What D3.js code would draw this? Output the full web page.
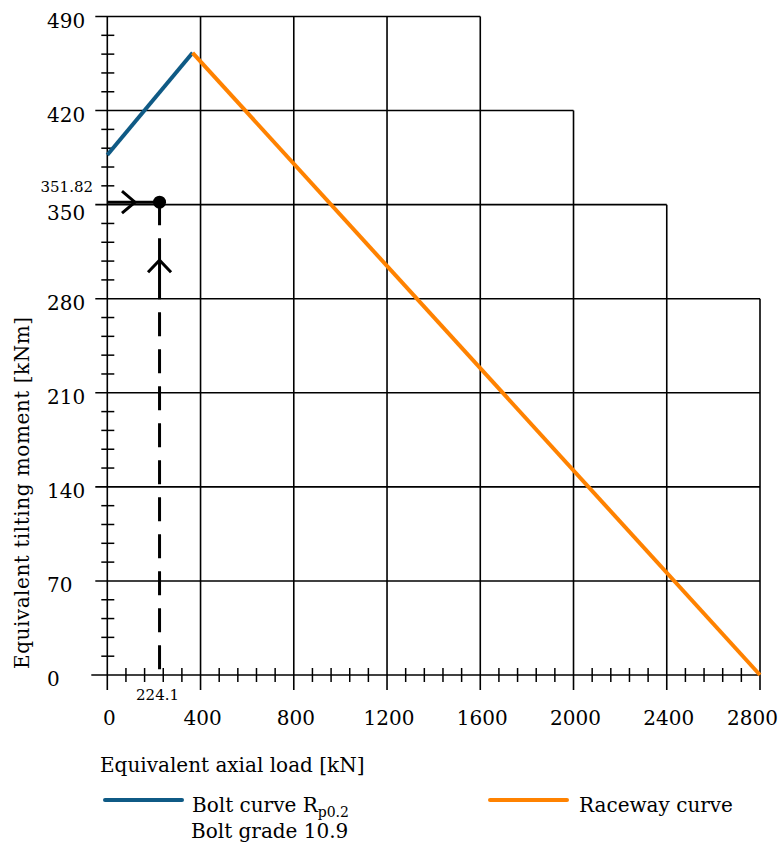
<!DOCTYPE html>
<html>
<head>
	<meta charset="utf-8">
	<title>Equivalent tilting moment vs axial load</title>
	<style>
body {
  background-color: #ffffff;
  margin: 0;
}
svg {
  font-family: "DejaVu Serif", serif;
}
	</style>
</head>
<body>
	<div id="my_dataviz"></div>

	<script src="https://d3js.org/d3.v7.min.js"></script>
	<script>
// data
var xTicks = [0, 400, 800, 1200, 1600, 2000, 2400, 2800];
var yTicks = [0, 70, 140, 210, 280, 350, 420, 490];
// how far each horizontal grid line runs (x value), and how high each vertical line goes (y value)
var hLineEnd = [2800, 2800, 2800, 2800, 2800, 2400, 2000, 1600];
var vLineTop = [490, 490, 490, 490, 490, 420, 350, 280];

var boltCurve = [[0, 387], [366, 463]];
var racewayCurve = [[366, 463], [2800, 0]];
var loadPoint = { x: 224.1, y: 351.82 };

var blue = "#0f5a85", orange = "#ff8200";

var W = 781, H = 848;
var svg = d3.select("#my_dataviz")
  .append("svg")
  .attr("width", W)
  .attr("height", H);

var x = d3.scaleLinear().domain([0, 2800]).range([107.3, 760]);
var y = d3.scaleLinear().domain([0, 490]).range([675, 16.5]);

var grid = svg.append("g").attr("stroke", "#000").attr("stroke-width", 1.6);

// horizontal grid lines (stepped right edge)
grid.selectAll(".hline").data(yTicks).enter().append("line")
  .attr("x1", function(d) { return d === 0 ? x(0) - 16 : x(0) - 12; })
  .attr("x2", function(d, i) { return x(hLineEnd[i]); })
  .attr("y1", function(d) { return y(d); })
  .attr("y2", function(d) { return y(d); });

// vertical grid lines
grid.selectAll(".vline").data(xTicks).enter().append("line")
  .attr("x1", function(d) { return x(d); })
  .attr("x2", function(d) { return x(d); })
  .attr("y1", function(d, i) { return y(vLineTop[i]); })
  .attr("y2", y(0) + 15);

// minor ticks
var xMinor = d3.range(0, 2800, 80).filter(function(d) { return d % 400 !== 0; });
var yMinor = d3.range(0, 490, 14).filter(function(d) { return d % 70 !== 0; });

grid.selectAll(".xminor").data(xMinor).enter().append("line")
  .attr("x1", function(d) { return x(d); })
  .attr("x2", function(d) { return x(d); })
  .attr("y1", y(0) - 7)
  .attr("y2", y(0) + 7)
  .attr("stroke-width", 1.5);

grid.selectAll(".yminor").data(yMinor).enter().append("line")
  .attr("x1", x(0) - 6)
  .attr("x2", x(0) + 7)
  .attr("y1", function(d) { return y(d); })
  .attr("y2", function(d) { return y(d); })
  .attr("stroke-width", 1.5);

// tick labels
svg.append("g").selectAll("text").data(yTicks).enter().append("text")
  .attr("x", 47)
  .attr("y", function(d) { return y(d) + (d === 350 ? 8 : 4); })
  .attr("dominant-baseline", "central")
  .style("font-size", "20px")
  .text(function(d) { return d; });

// last label is pulled in so it stays inside the picture
svg.append("g").selectAll("text").data(xTicks).enter().append("text")
  .attr("x", function(d, i) { return i === xTicks.length - 1 ? W - 3 : x(d) + 2; })
  .attr("y", y(0) + 50)
  .attr("text-anchor", function(d, i) { return i === xTicks.length - 1 ? "end" : "middle"; })
  .style("font-size", "20px")
  .text(function(d) { return d; });

// curves
var line = d3.line()
  .x(function(d) { return x(d[0]); })
  .y(function(d) { return y(d[1]); });

svg.append("path").datum(boltCurve)
  .attr("d", line)
  .attr("fill", "none")
  .attr("stroke", blue)
  .attr("stroke-width", 4);

svg.append("path").datum(racewayCurve)
  .attr("d", line)
  .attr("fill", "none")
  .attr("stroke", orange)
  .attr("stroke-width", 4);

// operating point annotation
var px = x(loadPoint.x), py = y(loadPoint.y);
var ann = svg.append("g").attr("stroke", "#000").attr("stroke-width", 3).attr("fill", "none");

ann.append("line")
  .attr("x1", x(0)).attr("x2", px)
  .attr("y1", py).attr("y2", py);

var dash = [23, 13, 61, 13];
for (var k = 0; k < 12; k++) dash.push(24, 13);
ann.append("line")
  .attr("x1", px).attr("x2", px)
  .attr("y1", py).attr("y2", y(0))
  .attr("stroke-dasharray", dash.join(" "));

// arrow heads
var hx = x(0) + (px - x(0)) * 0.53;
ann.append("path")
  .attr("d", "M" + (hx - 13) + "," + (py - 11) + "L" + hx + "," + py + "L" + (hx - 13) + "," + (py + 11));
var vy = py + 58;
ann.append("path")
  .attr("d", "M" + (px - 11.5) + "," + (vy + 12) + "L" + px + "," + vy + "L" + (px + 11.5) + "," + (vy + 12));

svg.append("circle")
  .attr("cx", px).attr("cy", py).attr("r", 6.5)
  .attr("fill", "#000");

svg.append("text")
  .attr("x", 93).attr("y", py - 10)
  .attr("text-anchor", "end")
  .style("font-size", "15px")
  .text(loadPoint.y);

svg.append("text")
  .attr("x", px - 2).attr("y", y(0) + 25)
  .attr("text-anchor", "middle")
  .style("font-size", "15px")
  .text(loadPoint.x);

// axis titles
svg.append("text")
  .attr("x", 100).attr("y", 772)
  .style("font-size", "20px")
  .text("Equivalent axial load [kN]");

svg.append("text")
  .attr("transform", "translate(29,493) rotate(-90)")
  .attr("text-anchor", "middle")
  .attr("textLength", 352)
  .attr("lengthAdjust", "spacing")
  .style("font-size", "20px")
  .text("Equivalent tilting moment [kNm]");

// legend
svg.append("line")
  .attr("x1", 105).attr("x2", 182).attr("y1", 800).attr("y2", 800)
  .attr("stroke", blue).attr("stroke-width", 4).attr("stroke-linecap", "round");

var t1 = svg.append("text").attr("x", 192).attr("y", 812).style("font-size", "20px");
t1.append("tspan").text("Bolt curve R");
t1.append("tspan").attr("dy", 5).style("font-size", "14px").text("p0.2");

svg.append("text").attr("x", 191).attr("y", 838).style("font-size", "20px")
  .text("Bolt grade 10.9");

svg.append("line")
  .attr("x1", 490).attr("x2", 567).attr("y1", 800).attr("y2", 800)
  .attr("stroke", orange).attr("stroke-width", 4).attr("stroke-linecap", "round");

svg.append("text").attr("x", 579).attr("y", 812).style("font-size", "20px")
  .text("Raceway curve");
	</script>
</body>
</html>
